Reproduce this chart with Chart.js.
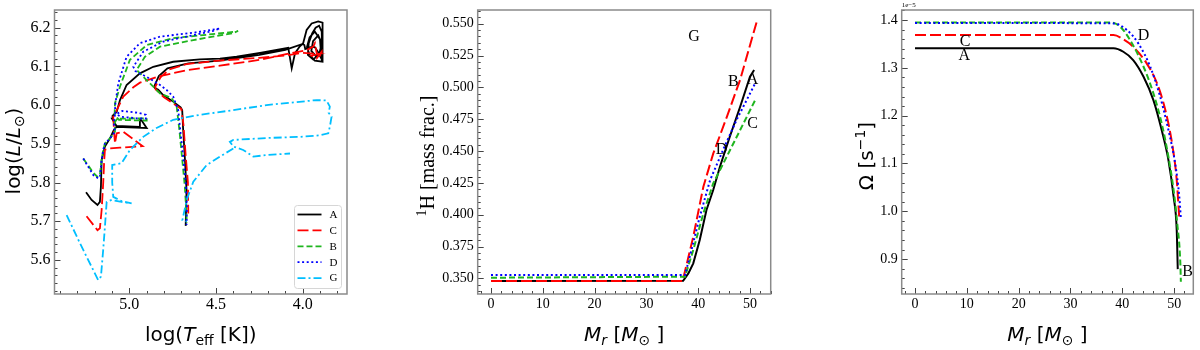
<!DOCTYPE html>
<html><head><meta charset="utf-8">
<script src="https://cdn.jsdelivr.net/npm/chart.js@4.4.0/dist/chart.umd.min.js"></script>
<style>
html,body{margin:0;padding:0;background:#fff;}
#wrap{position:relative;width:1200px;height:350px;overflow:hidden;}
canvas{position:absolute;top:0;}
</style></head><body>
<div id="wrap">
<canvas id="c1" width="400" height="350" style="left:0px"></canvas>
<canvas id="c2" width="400" height="350" style="left:400px"></canvas>
<canvas id="c3" width="400" height="350" style="left:800px"></canvas>
</div>
<script>
// ---------------- DATA ----------------
const seriesNames  = ['A','C','B','D','G'];
const seriesColors = ['#000000','#ff0000','#1fb51f','#0000ff','#00bfff'];
const seriesDashes = [[], [11,4], [6,3], [2,2.6], [8,3,2,3]];

// Panel 1: HR diagram, log Teff / log L
const hrA_logT = [5.250,5.218,5.184,5.170,5.164,5.160,5.141,5.112,5.090,5.074,4.900,4.930,4.939,4.939,5.074,5.100,5.097,5.073,5.054,5.016,4.939,4.862,4.747,4.593,4.477,4.381,4.246,4.083,4.063,4.044,4.016,3.997,3.977,3.948,3.910,3.885,3.885,3.930,3.960,3.975,3.960,3.930,3.900,3.895,3.920,3.950,3.940,3.910,3.890,3.905,3.940,3.970,3.965,3.945,3.925,3.905,3.890,3.888,3.892,3.915,3.930,3.955,3.985,3.990,4.000,4.100,4.250,4.480,4.660,4.780,4.830,4.855,4.852,4.833,4.805,4.747,4.704,4.695,4.690,4.679,4.670,4.675];
const hrA_logL = [5.775,5.755,5.742,5.750,5.790,5.858,5.893,5.914,5.935,5.944,5.941,5.961,5.962,5.944,5.946,5.965,5.972,5.983,6.013,6.052,6.082,6.099,6.112,6.118,6.120,6.125,6.135,6.148,6.095,6.134,6.152,6.160,6.194,6.211,6.216,6.213,6.112,6.115,6.130,6.150,6.175,6.190,6.170,6.140,6.125,6.140,6.165,6.180,6.160,6.130,6.118,6.130,6.160,6.185,6.200,6.205,6.190,6.150,6.120,6.140,6.150,6.150,6.145,6.155,6.158,6.143,6.130,6.115,6.108,6.095,6.075,6.050,6.044,6.040,6.026,6.009,5.994,5.987,5.940,5.858,5.780,5.688];

const hrC_logT = [5.247,5.184,5.170,5.160,5.151,5.145,5.141,5.112,5.054,4.924,5.035,5.073,5.083,5.088,5.093,5.073,5.035,4.977,4.939,4.823,4.669,4.477,4.246,4.073,3.977,3.939,3.929,3.919,3.890,3.890,3.920,3.950,3.905,4.000,4.100,4.250,4.480,4.670,4.770,4.820,4.850,4.848,4.843,4.800,4.750,4.700,4.688,4.675,4.662,4.660];
const hrC_logL = [5.713,5.677,5.682,5.729,5.798,5.858,5.885,5.888,5.890,5.894,5.931,5.927,5.901,5.930,5.970,5.987,6.022,6.046,6.058,6.075,6.090,6.102,6.117,6.134,6.142,6.151,6.160,6.134,6.125,6.138,6.120,6.128,6.132,6.135,6.128,6.122,6.115,6.106,6.092,6.072,6.048,6.040,6.039,6.020,6.005,5.990,5.950,5.870,5.800,5.720];

const hrB_logT = [5.266,5.208,5.185,5.170,5.160,5.151,5.141,5.112,5.083,5.085,5.070,4.900,4.900,5.060,5.085,5.083,5.054,4.997,4.900,4.747,4.550,4.381,4.372,4.400,4.631,4.823,4.910,4.958,4.939,4.881,4.823,4.756,4.727,4.710,4.695,4.680,4.672,4.668];
const hrB_logL = [5.862,5.825,5.815,5.820,5.858,5.884,5.901,5.914,5.931,5.955,5.965,5.966,5.960,5.962,5.975,6.005,6.048,6.117,6.155,6.173,6.182,6.190,6.192,6.186,6.168,6.151,6.125,6.091,6.082,6.056,6.030,6.018,5.996,5.930,5.860,5.790,5.730,5.695];

const hrD_logT = [5.266,5.208,5.180,5.170,5.160,5.151,5.141,5.112,5.083,5.090,5.083,5.040,4.950,4.905,4.905,4.960,5.050,5.080,5.083,5.064,5.016,4.939,4.823,4.631,4.477,4.516,4.669,4.805,4.920,4.977,4.965,4.958,4.900,4.823,4.785,4.747,4.718,4.705,4.690,4.675,4.668,4.670];
const hrD_logL = [5.862,5.819,5.811,5.815,5.858,5.884,5.901,5.914,5.931,5.955,5.975,5.985,5.980,5.975,5.965,5.966,5.970,5.978,5.996,6.056,6.125,6.160,6.177,6.187,6.198,6.192,6.177,6.164,6.138,6.099,6.088,6.086,6.073,6.052,6.039,6.022,5.987,5.930,5.870,5.800,5.740,5.690];

const hrG_logT = [5.362,5.285,5.180,5.164,5.151,5.141,5.131,5.102,5.045,4.987,5.045,5.093,5.099,5.099,5.045,4.997,4.920,4.843,4.747,4.593,4.400,4.208,3.919,3.862,3.843,3.850,3.833,3.843,3.852,3.900,4.016,4.208,4.400,4.420,4.400,4.343,4.285,4.208,4.073,null,4.400,4.477,4.554,4.631,4.669,4.694,4.669];
const hrG_logL = [5.716,5.643,5.548,5.557,5.626,5.686,5.750,5.755,5.750,5.746,5.752,5.763,5.800,5.845,5.850,5.884,5.918,5.941,5.962,5.975,5.987,6.000,6.013,6.012,5.996,5.980,5.970,5.944,5.927,5.922,5.918,5.915,5.910,5.905,5.893,5.884,5.867,5.871,5.875,null,5.888,5.867,5.845,5.802,5.755,5.703,5.699];

// Panel 2: 1H mass fraction vs M_r
const hA_M = [0, 37.1, 38.1, 39.05, 40.3, 41.6, 42.9, 44.2, 46.1, 48.1, 50.0, 50.8];
const hA_X = [0.3480, 0.3481, 0.3539, 0.3618, 0.3801, 0.4037, 0.4194, 0.4377, 0.4612, 0.4848, 0.5084, 0.5136];
const hC_M = [0, 37.0, 39.05, 41.0, 42.9, 45.5, 48.1, 51.3];
const hC_X = [0.3479, 0.3479, 0.3827, 0.4220, 0.4480, 0.4765, 0.5060, 0.5516];
const hB_M = [0, 37.45, 39.05, 41.0, 42.9, 45.5, 48.1, 51.0];
const hB_X = [0.3505, 0.3513, 0.3722, 0.4011, 0.4246, 0.4455, 0.4665, 0.4900];
const hD_M = [0, 37.45, 38.7, 40.3, 42.3, 44.8, 47.4, 51.0];
const hD_X = [0.3526, 0.3526, 0.3722, 0.3984, 0.4272, 0.4508, 0.4744, 0.5032];
const hLabels = ['G','B','A','C','D'];
const hLabelM = [39.2, 46.8, 50.5, 50.5, 44.5];
const hLabelX = [0.5403, 0.5050, 0.5066, 0.4718, 0.4521];

// Panel 3: Omega (x 1e-5 s^-1) vs M_r
const wA_M = [0, 38.3, 40.2, 42.1, 44.1, 46.0, 47.6, 48.9, 49.9, 50.5, 50.7];
const wA_O = [1.341, 1.341, 1.3337, 1.3163, 1.2814, 1.2326, 1.1699, 1.1071, 1.0304, 0.9607, 0.879];
const wC_M = [0, 38.3, 40.2, 42.1, 44.7, 46.7, 48.3, 49.6, 50.5, 51.0];
const wC_O = [1.3686, 1.3686, 1.3596, 1.3441, 1.3094, 1.2676, 1.2117, 1.1421, 1.0653, 0.985];
const wB_M = [0, 37.6, 39.6, 41.5, 44.1, 46.0, 47.6, 48.9, 49.9, 50.6, 51.2, 51.3];
const wB_O = [1.395, 1.395, 1.386, 1.358, 1.3023, 1.2466, 1.1839, 1.1140, 1.0444, 0.9747, 0.8910, 0.8525];
const wD_M = [0, 38.3, 40.9, 43.1, 45.4, 47.3, 48.9, 50.2, 51.0, 51.3];
const wD_O = [1.394, 1.393, 1.379, 1.351, 1.302, 1.240, 1.170, 1.100, 1.030, 0.985];
const wLabels = ['A','C','D','B'];
const wLabelM = [9.5, 9.65, 44.1, 52.6];
const wLabelO = [1.3268, 1.3567, 1.3686, 0.8755];

// Tick labels
const p1XMajor = [4.0, 4.5, 5.0];
const p1YMajor = [5.6, 5.7, 5.8, 5.9, 6.0, 6.1, 6.2];
const p2XMajor = [0, 10, 20, 30, 40, 50];
const p2YMajor = [0.350, 0.375, 0.400, 0.425, 0.450, 0.475, 0.500, 0.525, 0.550];
const p3XMajor = [0, 10, 20, 30, 40, 50];
const p3YMajor = [0.9, 1.0, 1.1, 1.2, 1.3, 1.4];

// ---------------- HELPERS ----------------
const SANS = '"DejaVu Sans"';
const SERIF = '"Liberation Serif"';
function fnt(size, style, fam){ return (style||'') + ' ' + size + 'px ' + (fam||SANS); }

function makeTicks(min, max, step, majors){
  const out = [];
  const k0 = Math.ceil(min/step - 1e-9), k1 = Math.floor(max/step + 1e-9);
  for (let k = k0; k <= k1; k++){
    const v = +(k*step).toFixed(6);
    out.push({value: v, mj: majors.some(m => Math.abs(m - v) < step*1e-3)});
  }
  return out;
}
function pts(xs, ys){ return xs.map((x,i) => ({x: x, y: ys[i]})); }
function ds(i, xs, ys, lw, extra){
  return Object.assign({
    label: seriesNames[i], data: pts(xs, ys), showLine: true,
    borderColor: seriesColors[i], backgroundColor: seriesColors[i],
    borderDash: seriesDashes[i], borderWidth: lw, pointRadius: 0,
    tension: 0, spanGaps: false, fill: false, order: -i
  }, extra||{});
}
function drawRich(ctx, parts, x, y, rot){
  ctx.save();
  ctx.translate(x, y);
  if (rot) ctx.rotate(-Math.PI/2);
  let w = 0;
  for (const p of parts){ ctx.font = p.f; w += ctx.measureText(p.t).width; }
  let cx = -w/2;
  ctx.textBaseline = 'alphabetic'; ctx.textAlign = 'left'; ctx.fillStyle = '#000';
  for (const p of parts){ ctx.font = p.f; ctx.fillText(p.t, cx, p.dy||0); cx += ctx.measureText(p.t).width; }
  ctx.restore();
}

function decoPlugin(cfg){
  return {
    id: 'deco',
    afterDraw(chart){
      const ctx = chart.ctx, a = chart.chartArea;
      const xs = chart.scales.x, ys = chart.scales.y;
      ctx.save();
      ctx.strokeStyle = '#444'; ctx.lineWidth = 1;
      ctx.beginPath();
      xs.ticks.forEach(t => {
        const p = Math.round(xs.getPixelForValue(t.value)) + 0.5;
        const L = t.mj ? 6 : 3;
        ctx.moveTo(p, a.bottom); ctx.lineTo(p, a.bottom - L);
      });
      ys.ticks.forEach(t => {
        const p = Math.round(ys.getPixelForValue(t.value)) + 0.5;
        const L = t.mj ? 6 : 3;
        ctx.moveTo(a.left, p); ctx.lineTo(a.left + L, p);
      });
      ctx.stroke();
      ctx.strokeStyle = '#8a8a8a'; ctx.lineWidth = 1.5;
      ctx.strokeRect(a.left, a.top, a.right - a.left, a.bottom - a.top);
      if (cfg.ann){
        ctx.fillStyle = '#000'; ctx.font = fnt(16, '', SERIF);
        ctx.textAlign = 'center'; ctx.textBaseline = 'middle';
        cfg.ann.labels.forEach((s, i) => {
          ctx.fillText(s, xs.getPixelForValue(cfg.ann.xs[i]), ys.getPixelForValue(cfg.ann.ys[i]) + 1);
        });
      }
      if (cfg.expLabel){
        ctx.fillStyle = '#000'; ctx.font = fnt(7, '', SERIF);
        ctx.textAlign = 'left'; ctx.textBaseline = 'alphabetic';
        ctx.fillText(cfg.expLabel, a.left, 7);
      }
      if (cfg.legend){
        const L = cfg.legend;
        ctx.fillStyle = 'rgba(255,255,255,0.85)'; ctx.strokeStyle = '#d6d6d6'; ctx.lineWidth = 1;
        ctx.beginPath(); ctx.roundRect(L.x, L.y, L.w, L.h, 3); ctx.fill(); ctx.stroke();
        chart.data.datasets.forEach((d, i) => {
          const yy = L.y + L.first + i*L.gap;
          ctx.strokeStyle = d.borderColor; ctx.lineWidth = d.borderWidth; ctx.setLineDash(d.borderDash);
          ctx.beginPath(); ctx.moveTo(L.x + 3, yy); ctx.lineTo(L.x + 27, yy); ctx.stroke();
          ctx.setLineDash([]);
          ctx.fillStyle = '#000'; ctx.font = fnt(11, '', SERIF);
          ctx.textAlign = 'left'; ctx.textBaseline = 'middle';
          ctx.fillText(d.label, L.x + 35, yy + 0.5);
        });
      }
      cfg.titles.forEach(t => drawRich(ctx, t.parts, t.x, t.y, t.rot));
      ctx.restore();
    }
  };
}

function makeChart(id, o, datasets, cfg){
  const ctx = document.getElementById(id).getContext('2d');
  return new Chart(ctx, {
    type: 'scatter',
    data: { datasets: datasets },
    options: {
      responsive: false, animation: false, events: [],
      layout: { padding: { left: 0, top: 10, right: o.padR, bottom: 0 } },
      plugins: { legend: { display: false }, tooltip: { enabled: false } },
      scales: {
        x: {
          type: 'linear', min: o.xmin, max: o.xmax, reverse: !!o.xrev, bounds: 'data',
          grid: { display: false, drawTicks: false }, border: { display: false },
          ticks: { autoSkip: false, maxRotation: 0, padding: o.xpad, color: '#000',
                   font: { family: o.tf, size: o.ts },
                   callback: (v, i, t) => (t[i] && t[i].mj) ? o.xfmt(v) : '' },
          afterBuildTicks: s => { s.ticks = makeTicks(o.xmin, o.xmax, o.xstep, o.xmaj); },
          afterFit: s => { s.height = 350 - o.bottom; s.paddingLeft = 0; s.paddingRight = 0; }
        },
        y: {
          type: 'linear', min: o.ymin, max: o.ymax, bounds: 'data',
          grid: { display: false, drawTicks: false }, border: { display: false },
          ticks: { autoSkip: false, padding: 4, color: '#000',
                   font: { family: o.tf, size: o.ts },
                   callback: (v, i, t) => (t[i] && t[i].mj) ? o.yfmt(v) : '' },
          afterBuildTicks: s => { s.ticks = makeTicks(o.ymin, o.ymax, o.ystep, o.ymaj); },
          afterFit: s => { s.width = o.left; s.paddingTop = 0; s.paddingBottom = 0; }
        }
      }
    },
    plugins: [decoPlugin(cfg)]
  });
}

const N20 = fnt(20), I20 = fnt(20, 'italic'), N14 = fnt(14), I14 = fnt(14, 'italic');
const S20 = fnt(20, '', SERIF), S14 = fnt(14, '', SERIF);
const mrTitle = [{t:'M',f:I20},{t:'r',f:I14,dy:4},{t:' [',f:N20},{t:'M',f:I20},{t:'⊙',f:N14,dy:4},{t:' ]',f:N20}];

// Panel 1
makeChart('c1',
  { padR: 53, left: 54.5, bottom: 294, xmin: 3.744, xmax: 5.432, xrev: true, ymin: 5.512, ymax: 6.2457,
    xstep: 0.1, xmaj: p1XMajor, ystep: 0.02, ymaj: p1YMajor, tf: SERIF, ts: 16, xpad: 1,
    xfmt: v => v.toFixed(1), yfmt: v => v.toFixed(1) },
  [ ds(0, hrA_logT, hrA_logL, 1.8), ds(1, hrC_logT, hrC_logL, 1.8), ds(2, hrB_logT, hrB_logL, 1.8),
    ds(3, hrD_logT, hrD_logL, 1.8), ds(4, hrG_logT, hrG_logL, 1.8) ],
  { legend: { x: 294.5, y: 205.5, w: 47, h: 83, first: 9, gap: 15.9 },
    titles: [
      { parts: [{t:'log(',f:N20},{t:'L',f:I20},{t:'/',f:N20},{t:'L',f:I20},{t:'⊙',f:N14,dy:4},{t:')',f:N20}], x: 19.5, y: 151, rot: true },
      { parts: [{t:'log(',f:N20},{t:'T',f:I20},{t:'eff',f:N14,dy:4},{t:' [K])',f:N20}], x: 200.7, y: 341 }
    ] });

// Panel 2
makeChart('c2',
  { padR: 29.3, left: 77.7, bottom: 294, xmin: -2.57, xmax: 54.0, ymin: 0.3377, ymax: 0.5608,
    xstep: 2, xmaj: p2XMajor, ystep: 0.005, ymaj: p2YMajor, tf: SERIF, ts: 14, xpad: 2,
    xfmt: v => String(Math.round(v)), yfmt: v => v.toFixed(3) },
  [ ds(0, hA_M, hA_X, 2), ds(1, hC_M, hC_X, 2), ds(2, hB_M, hB_X, 2), ds(3, hD_M, hD_X, 2) ],
  { ann: { labels: hLabels, xs: hLabelM, ys: hLabelX },
    titles: [
      { parts: [{t:'1',f:S14,dy:-8},{t:'H [mass frac.]',f:S20}], x: 34, y: 156, rot: true },
      { parts: mrTitle, x: 224.2, y: 340.5 }
    ] });

// Panel 3
makeChart('c3',
  { padR: 6.7, left: 101.7, bottom: 294, xmin: -2.57, xmax: 53.7, ymin: 0.827, ymax: 1.421,
    xstep: 2, xmaj: p3XMajor, ystep: 0.02, ymaj: p3YMajor, tf: SERIF, ts: 14, xpad: 2,
    xfmt: v => String(Math.round(v)), yfmt: v => v.toFixed(1) },
  [ ds(0, wA_M, wA_O, 2, {cubicInterpolationMode:'monotone'}), ds(1, wC_M, wC_O, 2, {cubicInterpolationMode:'monotone'}),
    ds(2, wB_M, wB_O, 2, {cubicInterpolationMode:'monotone'}), ds(3, wD_M, wD_O, 2, {cubicInterpolationMode:'monotone'}) ],
  { ann: { labels: wLabels, xs: wLabelM, ys: wLabelO }, expLabel: '1e−5',
    titles: [
      { parts: [{t:'Ω [s',f:N20},{t:'−1',f:N14,dy:-8},{t:']',f:N20}], x: 72.5, y: 156, rot: true },
      { parts: mrTitle, x: 247.5, y: 340.5 }
    ] });
</script>
</body></html>
